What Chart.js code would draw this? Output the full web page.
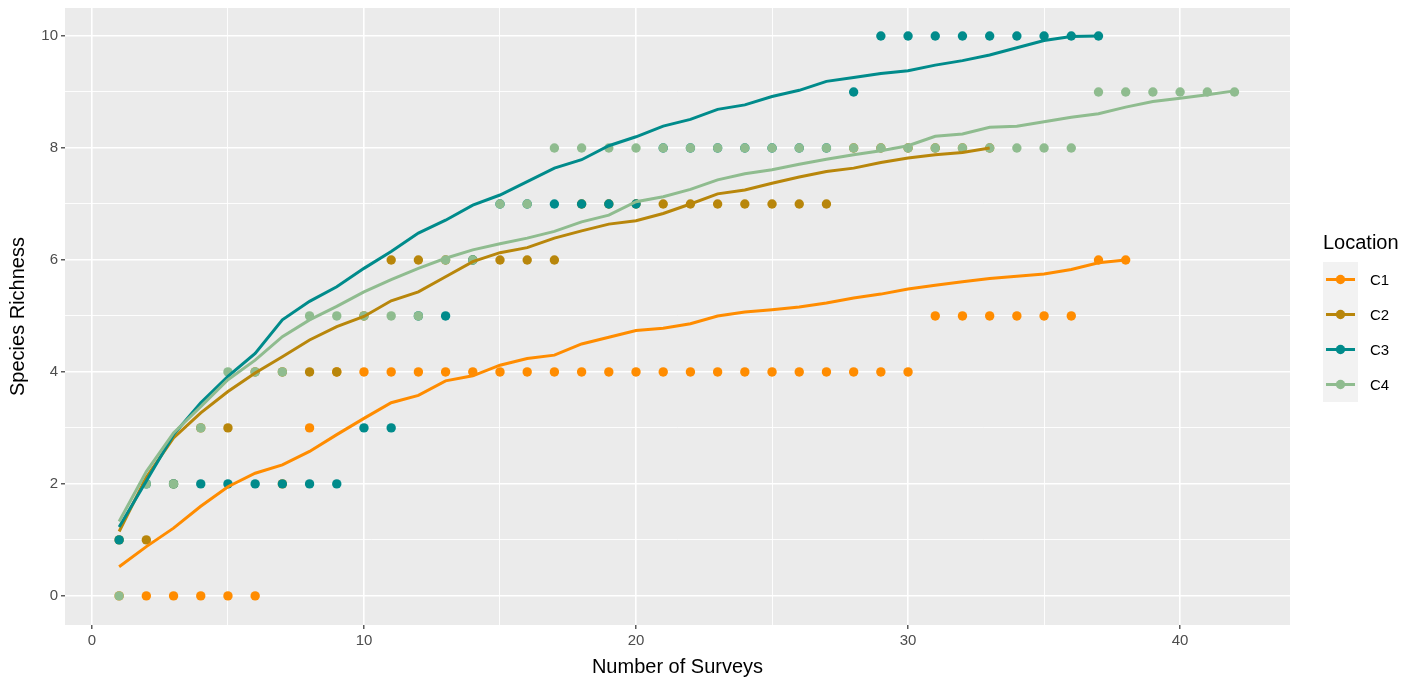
<!DOCTYPE html>
<html>
<head>
<meta charset="utf-8">
<script src="https://cdn.jsdelivr.net/npm/chart.js@4"></script>
<style>
  html, body { margin: 0; padding: 0; background: #ffffff; }
  canvas { display: block; }
</style>
</head>
<body>
<canvas id="chart" width="1422" height="682"></canvas>
<script>
// Sampling locations and their colours
const locations = ['C1', 'C2', 'C3', 'C4'];
const locationColors = ['#FF8C00', '#B8860B', '#008B8B', '#8FBC8F'];

// Observed species richness per survey (survey number = index + 1)
const c1Observed = [0,0,0,0,0,0,2,3,4,4,4,4,4,4,4,4,4,4,4,4,4,4,4,4,4,4,4,4,4,4,5,5,5,5,5,5,6,6];
const c2Observed = [1,1,2,3,3,4,4,4,4,5,6,6,6,6,6,6,6,7,7,7,7,7,7,7,7,7,7,8,8,8,8,8,8];
const c3Observed = [1,2,2,2,2,2,2,2,2,3,3,5,5,6,7,7,7,7,7,7,8,8,8,8,8,8,8,9,10,10,10,10,10,10,10,10,10];
const c4Observed = [0,2,2,3,4,4,4,5,5,5,5,5,6,6,7,7,8,8,8,8,8,8,8,8,8,8,8,8,8,8,8,8,8,8,8,8,9,9,9,9,9,9];

// Species accumulation curves per survey
const c1Curve = [0.52,0.88,1.21,1.60,1.95,2.19,2.34,2.58,2.88,3.17,3.45,3.58,3.84,3.93,4.12,4.24,4.30,4.50,4.62,4.74,4.78,4.86,5.00,5.07,5.11,5.16,5.23,5.32,5.39,5.48,5.55,5.61,5.67,5.71,5.75,5.83,5.95,6.00];
const c2Curve = [1.15,2.12,2.82,3.27,3.65,3.98,4.27,4.57,4.81,4.99,5.27,5.43,5.70,5.97,6.13,6.22,6.39,6.52,6.64,6.70,6.83,7.00,7.18,7.25,7.37,7.48,7.58,7.64,7.74,7.82,7.88,7.92,8.00];
const c3Curve = [1.23,2.05,2.88,3.45,3.92,4.33,4.93,5.26,5.52,5.85,6.15,6.48,6.71,6.98,7.16,7.40,7.64,7.79,8.04,8.20,8.39,8.51,8.69,8.77,8.92,9.03,9.19,9.26,9.33,9.38,9.48,9.56,9.66,9.79,9.92,9.99,10.00];
const c4Curve = [1.33,2.22,2.91,3.38,3.86,4.21,4.63,4.93,5.17,5.43,5.65,5.85,6.03,6.18,6.29,6.39,6.51,6.68,6.80,7.04,7.13,7.26,7.43,7.54,7.61,7.71,7.80,7.88,7.95,8.04,8.21,8.25,8.37,8.39,8.47,8.55,8.61,8.73,8.83,8.89,8.95,9.02];

// Axis ticks
const xMajorTicks = [0, 10, 20, 30, 40];
const xMinorTicks = [5, 15, 25, 35];
const yMajorTicks = [0, 2, 4, 6, 8, 10];
const yMinorTicks = [1, 3, 5, 7, 9];

const observedSets = [c1Observed, c2Observed, c3Observed, c4Observed];
const curveSets = [c1Curve, c2Curve, c3Curve, c4Curve];

const FONT = '"Liberation Sans", Arial, sans-serif';
const toXY = arr => arr.map((v, i) => ({ x: i + 1, y: v }));

const datasets = [];
// curves: later locations on top (lower order draws later)
locations.forEach((loc, i) => {
  datasets.push({
    type: 'line',
    label: loc,
    data: toXY(curveSets[i]),
    borderColor: locationColors[i],
    backgroundColor: locationColors[i],
    borderWidth: 3,
    pointRadius: 0,
    pointHoverRadius: 0,
    tension: 0,
    fill: false,
    order: 3 - i
  });
});
// observed points sit underneath the curves
locations.forEach((loc, i) => {
  datasets.push({
    type: 'scatter',
    label: loc + ' observed',
    data: toXY(observedSets[i]),
    backgroundColor: locationColors[i],
    borderColor: locationColors[i],
    borderWidth: 0,
    pointRadius: 4.7,
    pointHoverRadius: 4.7,
    showLine: false,
    order: 7 - i
  });
});

const panelBackground = {
  id: 'panelBackground',
  beforeDraw(chart) {
    const { ctx, chartArea: a } = chart;
    ctx.save();
    ctx.fillStyle = '#ffffff';
    ctx.fillRect(0, 0, chart.width, chart.height);
    ctx.fillStyle = '#EBEBEB';
    ctx.fillRect(a.left, a.top, a.right - a.left, a.bottom - a.top);
    ctx.restore();
  }
};

const locationLegend = {
  id: 'locationLegend',
  afterDraw(chart) {
    const { ctx } = chart;
    const x0 = 1323, top = 262, key = 35;
    ctx.save();
    ctx.fillStyle = '#000000';
    ctx.font = '20px ' + FONT;
    ctx.textAlign = 'left';
    ctx.textBaseline = 'middle';
    ctx.fillText('Location', x0, 243);
    ctx.fillStyle = '#F2F2F2';
    ctx.fillRect(x0, top, key, key * locations.length);
    locations.forEach((loc, i) => {
      const cy = top + key / 2 + key * i;
      ctx.strokeStyle = locationColors[i];
      ctx.lineWidth = 3;
      ctx.beginPath();
      ctx.moveTo(x0 + 3, cy);
      ctx.lineTo(x0 + key - 3, cy);
      ctx.stroke();
      ctx.fillStyle = locationColors[i];
      ctx.beginPath();
      ctx.arc(x0 + key / 2, cy, 4.7, 0, Math.PI * 2);
      ctx.fill();
      ctx.fillStyle = '#000000';
      ctx.font = '15px ' + FONT;
      ctx.fillText(loc, 1370, cy + 1);
    });
    ctx.restore();
  }
};

const isMajor = (list, v) => list.includes(v);

new Chart(document.getElementById('chart'), {
  data: { datasets },
  options: {
    responsive: false,
    animation: false,
    devicePixelRatio: 1,
    layout: { padding: { top: 8, right: 132, left: 0, bottom: 0 } },
    plugins: { legend: { display: false }, tooltip: { enabled: false } },
    events: [],
    scales: {
      x: {
        type: 'linear',
        min: -0.99,
        max: 44.04,
        afterBuildTicks: s => { s.ticks = [...xMajorTicks, ...xMinorTicks].sort((a, b) => a - b).map(v => ({ value: v })); },
        afterFit: s => { s.height = 57; s.paddingLeft = 0; s.paddingRight = 0; },
        border: { display: false },
        grid: {
          color: '#FFFFFF',
          lineWidth: c => isMajor(xMajorTicks, c.tick.value) ? 1.6 : 0.9,
          tickLength: 4,
          tickWidth: 1.2,
          tickColor: c => isMajor(xMajorTicks, c.tick.value) ? '#333333' : 'rgba(0,0,0,0)'
        },
        ticks: {
          autoSkip: false,
          maxRotation: 0,
          padding: 3,
          color: '#4D4D4D',
          font: { family: FONT, size: 15 },
          callback: v => isMajor(xMajorTicks, v) ? String(v) : ''
        },
        title: {
          display: true,
          text: 'Number of Surveys',
          color: '#000000',
          font: { family: FONT, size: 20 },
          padding: { top: 0, bottom: 3 }
        }
      },
      y: {
        type: 'linear',
        min: -0.52,
        max: 10.5,
        afterBuildTicks: s => { s.ticks = [...yMajorTicks, ...yMinorTicks].sort((a, b) => a - b).map(v => ({ value: v })); },
        afterFit: s => { s.width = 65; s.paddingTop = 0; s.paddingBottom = 0; },
        border: { display: false },
        grid: {
          color: '#FFFFFF',
          lineWidth: c => isMajor(yMajorTicks, c.tick.value) ? 1.6 : 0.9,
          tickLength: 4,
          tickWidth: 1.2,
          tickColor: c => isMajor(yMajorTicks, c.tick.value) ? '#333333' : 'rgba(0,0,0,0)'
        },
        ticks: {
          autoSkip: false,
          padding: 3,
          color: '#4D4D4D',
          font: { family: FONT, size: 15 },
          callback: v => isMajor(yMajorTicks, v) ? String(v) : ''
        },
        title: {
          display: true,
          text: 'Species Richness',
          color: '#000000',
          font: { family: FONT, size: 20 },
          padding: { top: 6, bottom: 0 }
        }
      }
    }
  },
  plugins: [panelBackground, locationLegend]
});
</script>
</body>
</html>
